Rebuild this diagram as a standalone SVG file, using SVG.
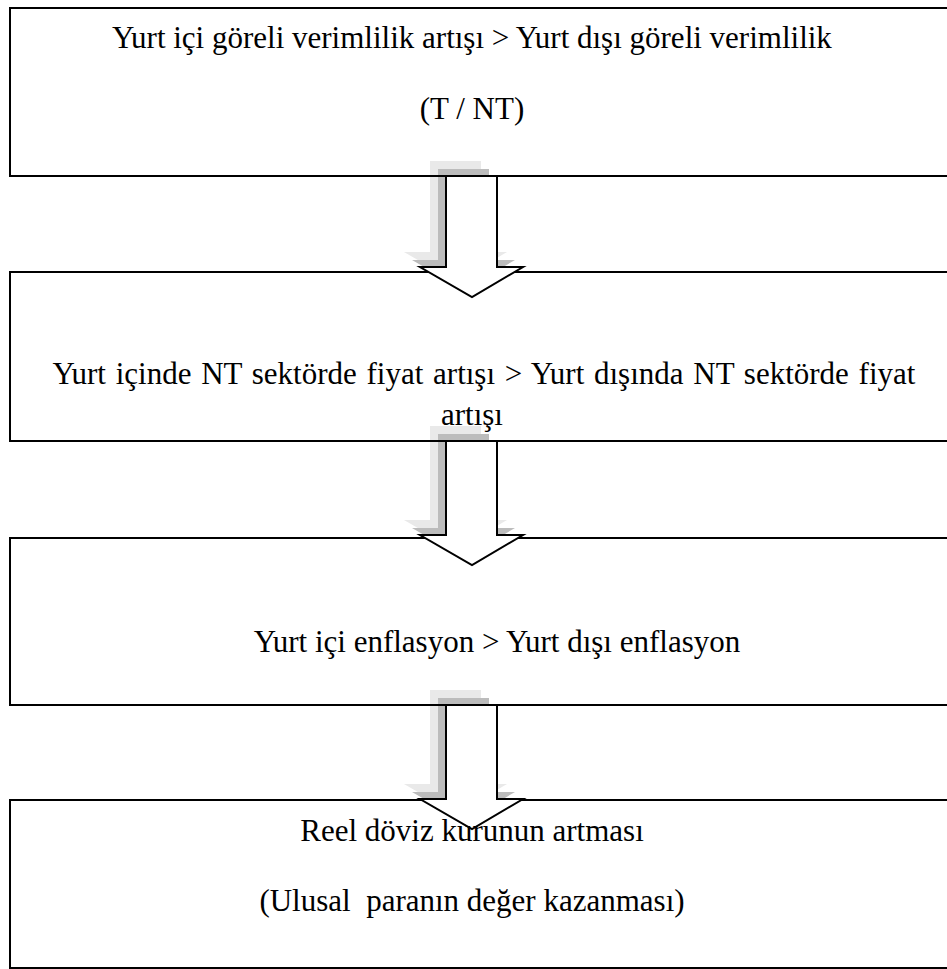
<svg xmlns="http://www.w3.org/2000/svg" width="947" height="969" viewBox="0 0 947 969">
<style>
.box{fill:none;stroke:#000;stroke-width:2}
.arr{fill:#fff;stroke:#000;stroke-width:2;stroke-linejoin:miter}
.sh1{fill:#e9e9e9}
.sh2{fill:#bcbcbc}
text{font-family:"Liberation Serif","Times New Roman",serif;font-size:31px;fill:#000;text-anchor:middle}
</style>
<defs>
<path id="a1" d="M446,176 H497 V267 H523 L472,297 L420,267 H446 Z"/>
<path id="a2" d="M446,441 H497 V535 H523 L472,565 L420,535 H446 Z"/>
<path id="a3" d="M446,705 H497 V799 H523 L472,829 L420,799 H446 Z"/>
</defs>
<rect width="947" height="969" fill="#fff"/>
<g id="connectors">
<g id="shadows">
<use href="#a1" class="sh1" transform="translate(-16,-15)"/>
<use href="#a1" class="sh2" transform="translate(-8,-7)"/>
<use href="#a2" class="sh1" transform="translate(-16,-15)"/>
<use href="#a2" class="sh2" transform="translate(-8,-7)"/>
<use href="#a3" class="sh1" transform="translate(-16,-15)"/>
<use href="#a3" class="sh2" transform="translate(-8,-7)"/>
</g>
</g>
<g id="box1"><rect class="box" x="10" y="8" width="950" height="168"/></g>
<g id="box2"><rect class="box" x="10" y="272" width="950" height="169"/></g>
<g id="box3"><rect class="box" x="10" y="538" width="950" height="167"/></g>
<g id="box4"><rect class="box" x="10" y="800" width="950" height="168"/></g>
<g id="arrows">
<use href="#a1" class="arr"/>
<use href="#a2" class="arr"/>
<use href="#a3" class="arr"/>
</g>
<g id="labels">
<text x="472" y="48">Yurt içi göreli verimlilik artışı &gt; Yurt dışı göreli verimlilik</text>
<text x="472" y="119">(T / NT)</text>
<text x="484" y="384" word-spacing="2">Yurt içinde NT sektörde fiyat artışı &gt; Yurt dışında NT sektörde fiyat</text>
<text x="472" y="425">artışı</text>
<text x="497" y="652">Yurt içi enflasyon &gt; Yurt dışı enflasyon</text>
<text x="472" y="841">Reel döviz kurunun artması</text>
<text x="472" y="911" xml:space="preserve">(Ulusal  paranın değer kazanması)</text>
</g>
</svg>
